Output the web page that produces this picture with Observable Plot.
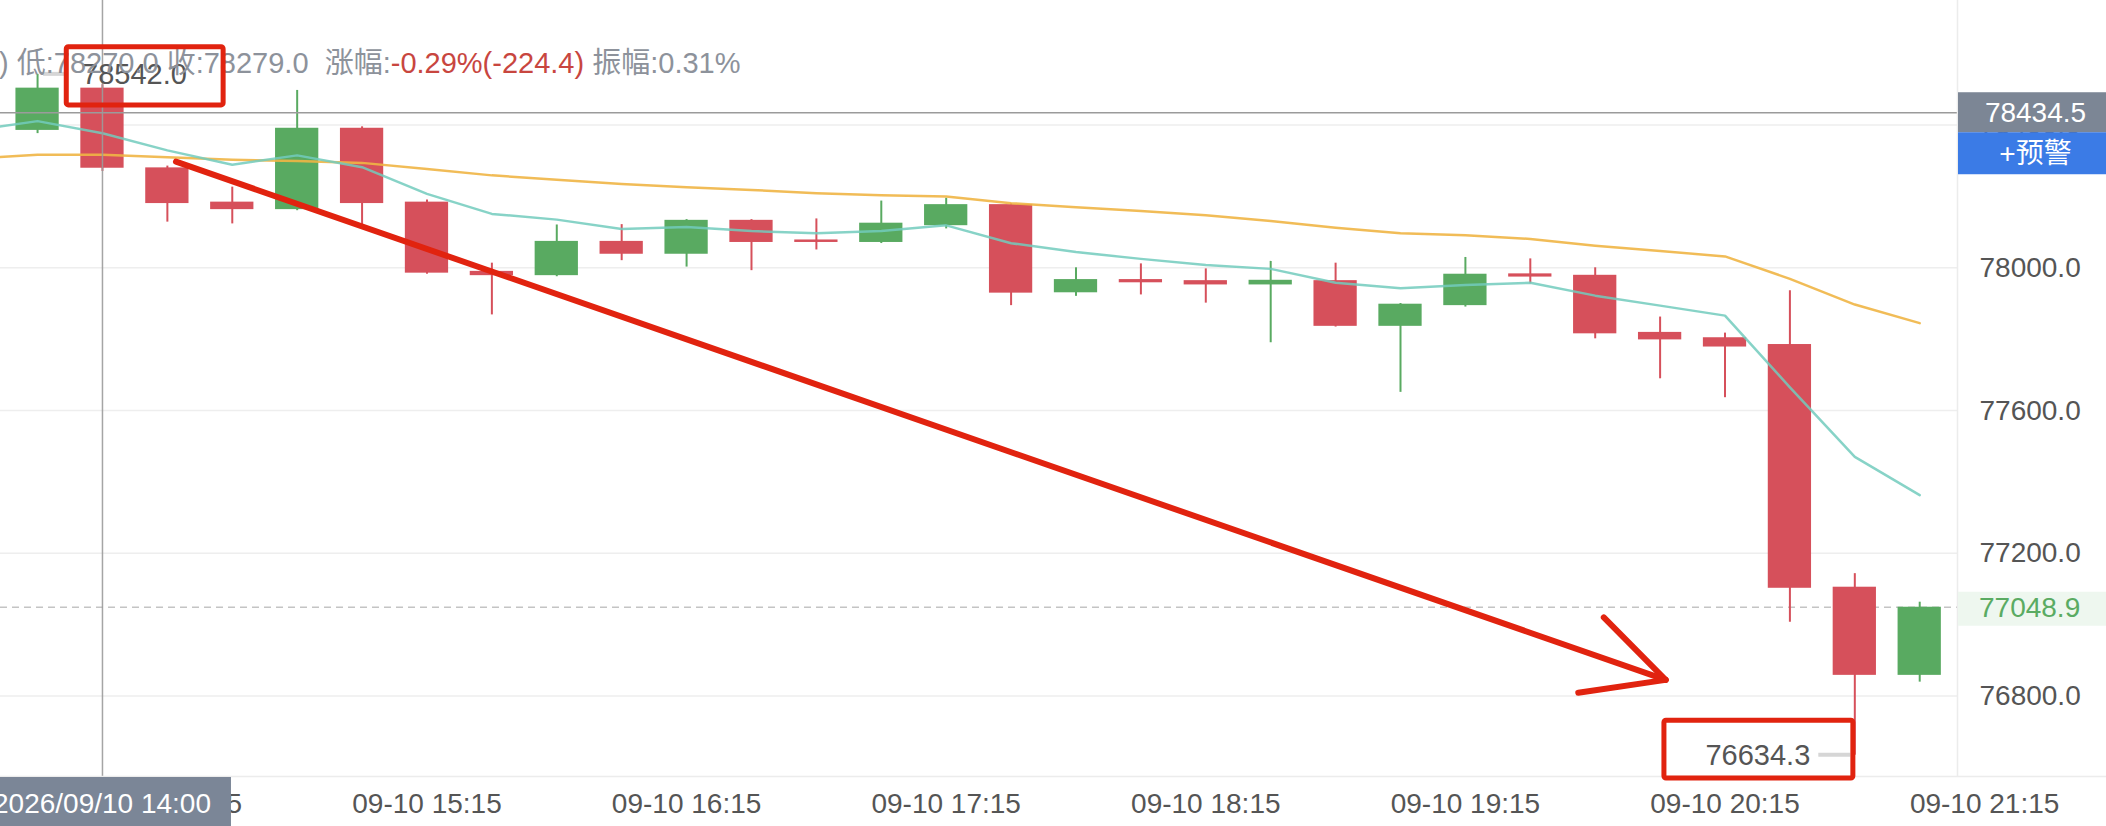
<!DOCTYPE html>
<html><head><meta charset="utf-8">
<script src="https://cdn.jsdelivr.net/npm/d3@7"></script>
<script src="https://cdn.jsdelivr.net/npm/@observablehq/plot@0.6"></script>
<style>
body{margin:0;background:#fff;overflow:hidden;}
#chart svg{display:block;}
</style>
</head><body><div id="chart"></div>
<script>
// ---- data (15-minute candles, 2026-09-10) ----
const day = "2026-09-10";
const times = ["13:45","14:00","14:15","14:30","14:45","15:00","15:15","15:30","15:45","16:00",
               "16:15","16:30","16:45","17:00","17:15","17:30","17:45","18:00","18:15","18:30",
               "18:45","19:00","19:15","19:30","19:45","20:00","20:15","20:30","20:45","21:00"];
const open  = [78385,78503.4,78280,78184,78163,78391,78184,77990,77978,78074,
               78038,78133,78078,78071,78118,78177,77930,77967,77964,77952,
               77964,77836,77894,77983,77979,77819,77804,77785,77105,76858];
const high  = [78542.0,78513,78285,78226,78497,78395,78190,78013,78120,78121,
               78135,78135,78137,78187,78195,78180,78000,78011,77997,78018,
               78013,77900,78029,78025,78000,77862,77817,77936,77143,77063];
const low   = [78376,78270,78128,78123,78160,78121,77982,77868,77975,78020,
               78002,77992,78050,78068,78109,77894,77920,77924,77901,77790,
               77834,77651,77890,77955,77801,77689,77636,77007,76634.3,76839];
const close = [78503.4,78279,78180,78163,78391,78180,77985,77978,78074,78038,
               78133,78071,78071,78125,78177,77929,77967,77958,77952,77965,
               77836,77898,77982,77974,77815,77798,77778,77102,76858,77048.9];
// moving averages, from 13:30
const maTimes = ["13:30"].concat(times);
const maFast = [78385,78411,78377,78329,78289,78315,78282,78207,78151,78135,78109,
                78114,78103,78097,78103,78119,78069,78044,78025,78008,77997,
                77958,77943,77952,77958,77922,77894,77866,77665,77470,77363];
const maSlow = [78306,78317,78317,78310,78303,78299,78294,78277,78259,78247,78235,
                78226,78218,78209,78203,78200,78181,78170,78159,78147,78131,
                78112,78097,78091,78081,78062,78047,78032,77969,77897,77845];
const xTicks = ["14:15","15:15","16:15","17:15","18:15","19:15","20:15","21:15"];
const yTicks = [76800,77200,77600,78000,78400];
const crossTime = "14:00", crossPrice = 78434.5, lastPrice = 77048.9;
const hiLabel = {time:"13:45", price:78542.0}, loLabel = {time:"20:45", price:76634.3};
const headerGrey1 = ") 低:78270.0 收:78279.0  涨幅:";
const headerRed = "-0.29%(-224.4)";
const headerGrey2 = " 振幅:0.31%";
// hand-drawn annotations (time, price)
const annBoxes = [{t1:"13:51:45",t2:"14:28:00",p1:78455,p2:78618},
                  {t1:"20:01:00",t2:"20:44:40",p1:76569,p2:76731}];
const annLinks = [{t1:"14:17:06",p1:78296,t2:"20:01:24",p2:76844},
                  {t1:"19:47:06",p1:77019,t2:"20:01:24",p2:76844},
                  {t1:"19:41:12",p1:76808,t2:"20:01:24",p2:76844}];

// ---- build ----
const parseM = d3.timeParse("%Y-%m-%d %H:%M");
const parseS = d3.timeParse("%Y-%m-%d %H:%M:%S");
const T = s => (s.length > 5 ? parseS : parseM)(day + " " + s);
const fmtX = d3.timeFormat("%m-%d %H:%M");
const candles = times.map((t,i)=>({t:T(t),o:open[i],h:high[i],l:low[i],c:close[i]}));
const ma = maTimes.map((t,i)=>({t:T(t),a:maFast[i],b:maSlow[i]}));
const RED="#d6505b", GREEN="#59aa61";
const col = d => d.c >= d.o ? GREEN : RED;
const halfBody = 5*60*1000;
const FONT = "'Liberation Sans','Noto Sans CJK SC',Arial,sans-serif";

const chart = Plot.plot({
  width:2106, height:826,
  marginLeft:0, marginRight:149, marginTop:0, marginBottom:50,
  style:{fontFamily:FONT, background:"#fff"},
  x:{type:"time", domain:[T("13:36:26"), T("21:08:44")], axis:null},
  y:{domain:[76574.6, 78749], axis:null},
  color:{type:"identity"},
  marks:[
    Plot.gridY(yTicks, {stroke:"#eeeeee", strokeOpacity:1, strokeWidth:1.5}),
    Plot.ruleY([lastPrice], {stroke:"#c4c4c4", strokeWidth:1.5, strokeDasharray:"7,5"}),
    Plot.ruleX(candles, {x:"t", y1:"l", y2:"h", stroke:col, strokeWidth:2}),
    Plot.rect(candles, {x1:d=>new Date(+d.t-halfBody), x2:d=>new Date(+d.t+halfBody), y1:"o", y2:"c", fill:col}),
    Plot.line(ma, {x:"t", y:"b", stroke:"#efb545", strokeWidth:2.5, strokeOpacity:0.9, clip:true}),
    Plot.line(ma, {x:"t", y:"a", stroke:"#72cbbd", strokeWidth:2.5, strokeOpacity:0.85, clip:true}),
    Plot.ruleY([crossPrice], {stroke:"#9b9b9b", strokeWidth:1.5}),
    Plot.ruleX([T(crossTime)], {stroke:"#9b9b9b", strokeWidth:1.5, strokeOpacity:0.9}),
    Plot.axisY(yTicks, {anchor:"right", tickSize:0, tickPadding:22, textAnchor:"start",
      tickFormat:d=>d.toFixed(1), fontSize:28, fill:"#555"}),
    Plot.text(xTicks, {x:d=>T(d), text:d=>fmtX(T(d)), frameAnchor:"bottom", dy:28,
      fontSize:28, fill:"#555", lineAnchor:"middle"})
  ]
});
document.getElementById("chart").appendChild(chart);

const sx = chart.scale("x"), sy = chart.scale("y");
const X = s => sx.apply(T(s)), Y = v => sy.apply(v);
const svg = d3.select(chart);
const g = svg.append("g").attr("font-family", FONT).attr("text-anchor","start");
const W = 2106, plotR = 2106-149, plotB = 826-50;

// separators
g.append("line").attr("x1",plotR+0.5).attr("x2",plotR+0.5).attr("y1",0).attr("y2",plotB).attr("stroke","#ececec").attr("stroke-width",1.5);
g.append("line").attr("x1",0).attr("x2",W).attr("y1",plotB+0.5).attr("y2",plotB+0.5).attr("stroke","#ececec").attr("stroke-width",1.5);

// right price labels
const cy = Y(crossPrice);
g.append("rect").attr("x",plotR+1).attr("y",cy-20).attr("width",W-plotR).attr("height",40).attr("fill","#7c8695");
g.append("text").attr("x",(plotR+W)/2+4).attr("y",cy).attr("dy","0.35em").attr("text-anchor","middle")
  .attr("font-size",28).attr("fill","#fff").text(crossPrice.toFixed(1));
g.append("rect").attr("x",plotR+1).attr("y",cy+20).attr("width",W-plotR).attr("height",42).attr("fill","#3b7be6");
g.append("text").attr("x",(plotR+W)/2+4).attr("y",cy+41).attr("dy","0.35em").attr("text-anchor","middle")
  .attr("font-size",28).attr("fill","#fff").text("+预警");
const ly = Y(lastPrice);
g.append("rect").attr("x",plotR+1).attr("y",ly-15).attr("width",W-plotR).attr("height",34).attr("fill","#eef7ef");
g.append("text").attr("x",plotR+22).attr("y",ly).attr("dy","0.35em").attr("text-anchor","start")
  .attr("font-size",28).attr("fill","#5aab62").text(lastPrice.toFixed(1));

// bottom crosshair time label
const cx = X(crossTime);
g.append("rect").attr("x",cx-129).attr("y",plotB+1).attr("width",258).attr("height",50).attr("fill","#7b8697");
g.append("text").attr("x",cx).attr("y",plotB+27).attr("dy","0.35em").attr("text-anchor","middle")
  .attr("font-size",28).attr("fill","#fff").text(d3.timeFormat("%Y/%m/%d %H:%M")(T(crossTime)));

// high / low markers
const hx = X(hiLabel.time), hy = Y(hiLabel.price);
g.append("line").attr("x1",hx+6).attr("x2",hx+30).attr("y1",hy).attr("y2",hy).attr("stroke","#d6d6d6").attr("stroke-width",4);
g.append("text").attr("x",hx+45).attr("y",hy).attr("dy","0.35em").attr("text-anchor","start").attr("font-size",29).attr("fill","#555").text(hiLabel.price.toFixed(1));
const lx = X(loLabel.time), lyy = Y(loLabel.price);
g.append("line").attr("x1",lx-36).attr("x2",lx-4).attr("y1",lyy).attr("y2",lyy).attr("stroke","#d6d6d6").attr("stroke-width",4);
g.append("text").attr("x",lx-44).attr("y",lyy).attr("dy","0.35em").attr("text-anchor","end").attr("font-size",29).attr("fill","#555").text(loLabel.price.toFixed(1));

// header
const ht = g.append("text").attr("x",-1).attr("y",63).attr("dy","0.35em").attr("text-anchor","start").attr("font-size",29).style("white-space","pre");
ht.append("tspan").attr("fill","#8d929b").text(headerGrey1);
ht.append("tspan").attr("fill","#c8463f").text(headerRed);
ht.append("tspan").attr("fill","#8d929b").text(headerGrey2);

// hand-drawn red annotations
annBoxes.forEach(b=>{
  const x1=X(b.t1), x2=X(b.t2), y1=Y(b.p2), y2=Y(b.p1);
  g.append("rect").attr("x",x1).attr("y",y1).attr("width",x2-x1).attr("height",y2-y1)
   .attr("fill","none").attr("stroke","#e1230f").attr("stroke-width",5).attr("rx",2);
});
annLinks.forEach(l=>{
  g.append("line").attr("x1",X(l.t1)).attr("y1",Y(l.p1)).attr("x2",X(l.t2)).attr("y2",Y(l.p2))
   .attr("stroke","#e1230f").attr("stroke-width",6).attr("stroke-linecap","round");
});
</script>
</body></html>
